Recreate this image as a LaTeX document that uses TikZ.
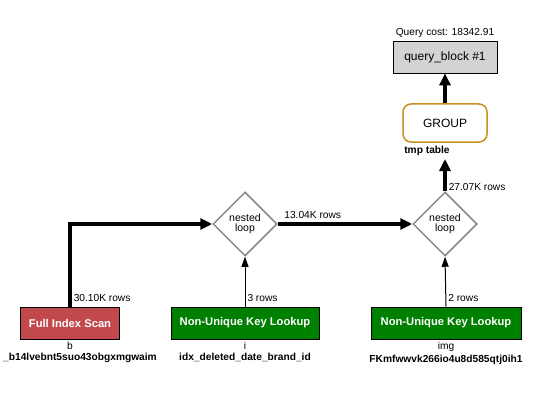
\documentclass[tikz,border=0pt]{standalone}
\usepackage{fontspec}
\setmainfont{Liberation Sans}
\usetikzlibrary{arrows.meta, positioning, shapes.geometric}

\definecolor{scanred}{RGB}{193,73,76}
\definecolor{lookupgreen}{RGB}{0,128,0}
\definecolor{groupgold}{RGB}{200,144,30}
\definecolor{blockgray}{RGB}{211,211,211}
\definecolor{loopgray}{RGB}{136,136,136}

\begin{document}
\begin{tikzpicture}[x=1pt, y=-1pt,
  access/.style = {draw, line width=0.8pt, minimum height=32pt, text=white, inner sep=0pt,
                   font=\fontsize{11.2}{13}\selectfont\bfseries},
  loop/.style = {diamond, draw=loopgray, line width=1.5pt, minimum width=64pt, minimum height=64pt,
                 inner sep=0pt, align=center, font=\fontsize{10.5}{10}\selectfont},
  heavy/.style = {line width=3.5pt, -{Triangle[width=11pt,length=12pt]}},
  light/.style = {line width=1pt, -{Triangle[width=7pt,length=10pt]}},
  rows/.style = {font=\fontsize{10.2}{12}\selectfont, inner sep=2pt},
  tag/.style = {font=\fontsize{10.2}{12}\selectfont\bfseries, inner sep=0pt}
]
\useasboundingbox (0,0) rectangle (560,420);

% Query block
\node[draw, line width=0.8pt, fill=blockgray, minimum width=104pt, minimum height=32pt,
      font=\fontsize{12}{14}\selectfont] (qblock) at (445,57) {query\_block \#1};
\node[rows, above=1pt of qblock] (qcost) {Query cost: 18342.91};

% Grouping
\node[draw=groupgold, line width=1.5pt, rounded corners=8pt, minimum width=84pt, minimum height=38pt,
      font=\fontsize{12}{14}\selectfont] (grp) at (445,123) {GROUP};
\node[tag] (tmp) at (427,151) {tmp table};
\coordinate (tmpin) at (445,159);

% Nested loops
\node[loop] (loopA) at (245,224) {nested\\loop};
\node[loop] (loopB) at (445,224) {nested\\loop};

% Table access
\node[access, fill=scanred, minimum width=99pt] (scan) at (70,323) {Full Index Scan};
\node[access, fill=lookupgreen, minimum width=148pt] (lookA) at (245,323) {Non-Unique Key Lookup};
\node[access, fill=lookupgreen, minimum width=150pt] (lookB) at (446,323) {Non-Unique Key Lookup};

% Table names and keys
\node[rows, inner sep=0pt, below=3pt of scan] (scanAlias) {b};
\node[tag, anchor=west] (scanKey) at (3,358) {\_b14lvebnt5suo43obgxmgwaim};
\node[rows, inner sep=0pt, below=3pt of lookA] (lookAAlias) {i};
\node[tag, below=3pt of lookAAlias] (lookAKey) {idx\_deleted\_date\_brand\_id};
\node[rows, inner sep=0pt, below=3pt of lookB] (lookBAlias) {img};
\node[tag, below=3pt of lookBAlias] (lookBKey) {FKmfwwvk266io4u8d585qtj0ih1};

% Connectors
\draw[heavy] (grp.north) -- (qblock.south);
\draw[heavy] (loopB.north) -- node[rows, anchor=west, pos=0.12] {27.07K rows} (tmpin);
\draw[heavy] (scan.north) |- node[rows, anchor=west, pos=0.05] {30.10K rows} (loopA.west);
\draw[heavy] (loopA.east) -- node[rows, above=2pt, pos=0.26] {13.04K rows} (loopB.west);
\draw[light] (lookA.north) -- node[rows, anchor=west, pos=0.17] {3 rows} (loopA.south);
\draw[light] (lookB.north) -- node[rows, anchor=west, pos=0.17] {2 rows} (loopB.south);

\end{tikzpicture}
\end{document}
